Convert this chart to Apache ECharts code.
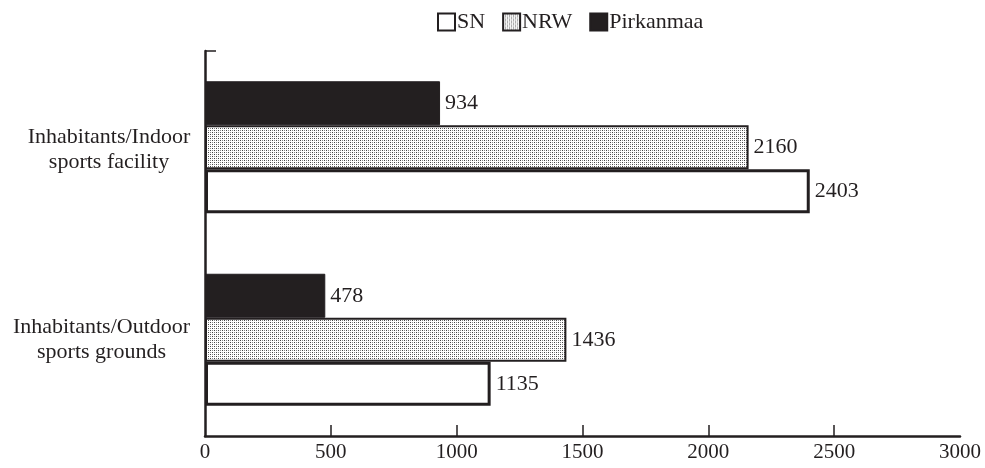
<!DOCTYPE html>
<html>
<head>
<meta charset="utf-8">
<script src="https://cdn.jsdelivr.net/npm/echarts@6/dist/echarts.min.js"></script>
<style>html,body{margin:0;padding:0;background:#fff}#c{width:985px;height:468px}</style>
</head>
<body>
<div id="c"></div>
<script>
const categories = ['Inhabitants/Outdoor\nsports grounds', 'Inhabitants/Indoor\nsports facility'];
const seriesNames = ['SN', 'NRW', 'Pirkanmaa'];
const snValues = [1135, 2403];
const nrwValues = [1436, 2160];
const pirkanmaaValues = [478, 934];
const xTicks = [0, 500, 1000, 1500, 2000, 2500, 3000];

const FONT = '"Liberation Serif", "DejaVu Serif", serif';
const INK = '#231f20';

// dotted fill pattern
const pc = document.createElement('canvas');
pc.width = 4; pc.height = 4;
const g = pc.getContext('2d');
g.fillStyle = '#ffffff'; g.fillRect(0, 0, 4, 4);
g.fillStyle = '#444444';
g.fillRect(0, 0, 1, 1); g.fillRect(2, 2, 1, 1);
g.fillStyle = '#888888';
g.fillRect(2, 0, 1, 1); g.fillRect(0, 2, 1, 1);

const lineWidths = { o: 183, i: 168 };

const chart = echarts.init(document.getElementById('c'), null, { renderer: 'canvas' });
const labelStyle = { show: true, position: 'right', distance: 5, fontSize: 22, fontFamily: FONT, color: INK };
chart.setOption({
  animation: false,
  legend: {
    data: seriesNames,
    top: 6, left: 432,
    itemWidth: 17, itemHeight: 17, itemGap: 17,
    icon: 'rect',
    textStyle: { fontSize: 22, fontFamily: FONT, color: INK, padding: [0, 0, 0, -3] }
  },
  grid: { left: 205, right: 25, top: 51, bottom: 32, containLabel: false },
  xAxis: {
    type: 'value', min: xTicks[0], max: xTicks[xTicks.length - 1], interval: 500,
    axisLine: { show: true, lineStyle: { color: INK, width: 2.5 } },
    axisTick: { show: true, inside: true, length: 11, lineStyle: { color: INK, width: 1.5 }, customValues: xTicks.slice(1, -1) },
    axisLabel: { fontSize: 21, fontFamily: FONT, color: INK, margin: 6, customValues: xTicks, formatter: v => String(v) },
    splitLine: { show: false }
  },
  yAxis: [{
    type: 'category', data: categories,
    axisLine: { show: true, lineStyle: { color: INK, width: 2.5 } },
    axisTick: { show: false },
    axisLabel: {
      margin: 12, align: 'right',
      formatter: v => {
        const key = v.indexOf('Outdoor') >= 0 ? 'o' : 'i';
        return v.split('\n').map(l => '{' + key + '|' + l + '}').join('\n');
      },
      rich: {
        o: { width: lineWidths.o, align: 'center', fontSize: 22, fontFamily: FONT, color: INK, lineHeight: 25 },
        i: { width: lineWidths.i, align: 'center', fontSize: 22, fontFamily: FONT, color: INK, lineHeight: 25, padding: [5, 0, 0, 0] }
      }
    }
  }, {
    type: 'value', position: 'left', min: 0, max: 1, interval: 1,
    axisLine: { show: false },
    axisLabel: { show: false },
    splitLine: { show: false },
    axisTick: { show: true, inside: true, length: 11, lineStyle: { color: INK, width: 1.5 }, customValues: [1] }
  }],
  series: [
    {
      name: 'Pirkanmaa', type: 'bar', data: pirkanmaaValues, barWidth: 44, barGap: '0%',
      itemStyle: { color: INK, borderColor: INK, borderWidth: 1 },
      label: labelStyle
    },
    {
      name: 'NRW', type: 'bar', data: nrwValues, barWidth: 44, barGap: '0%',
      itemStyle: { color: { image: pc, repeat: 'repeat' }, borderColor: INK, borderWidth: 2 },
      label: labelStyle
    },
    {
      name: 'SN', type: 'bar', data: snValues, barWidth: 44, barGap: '0%',
      itemStyle: { color: '#ffffff', borderColor: INK, borderWidth: 3 },
      label: labelStyle
    }
  ]
});
</script>
</body>
</html>
